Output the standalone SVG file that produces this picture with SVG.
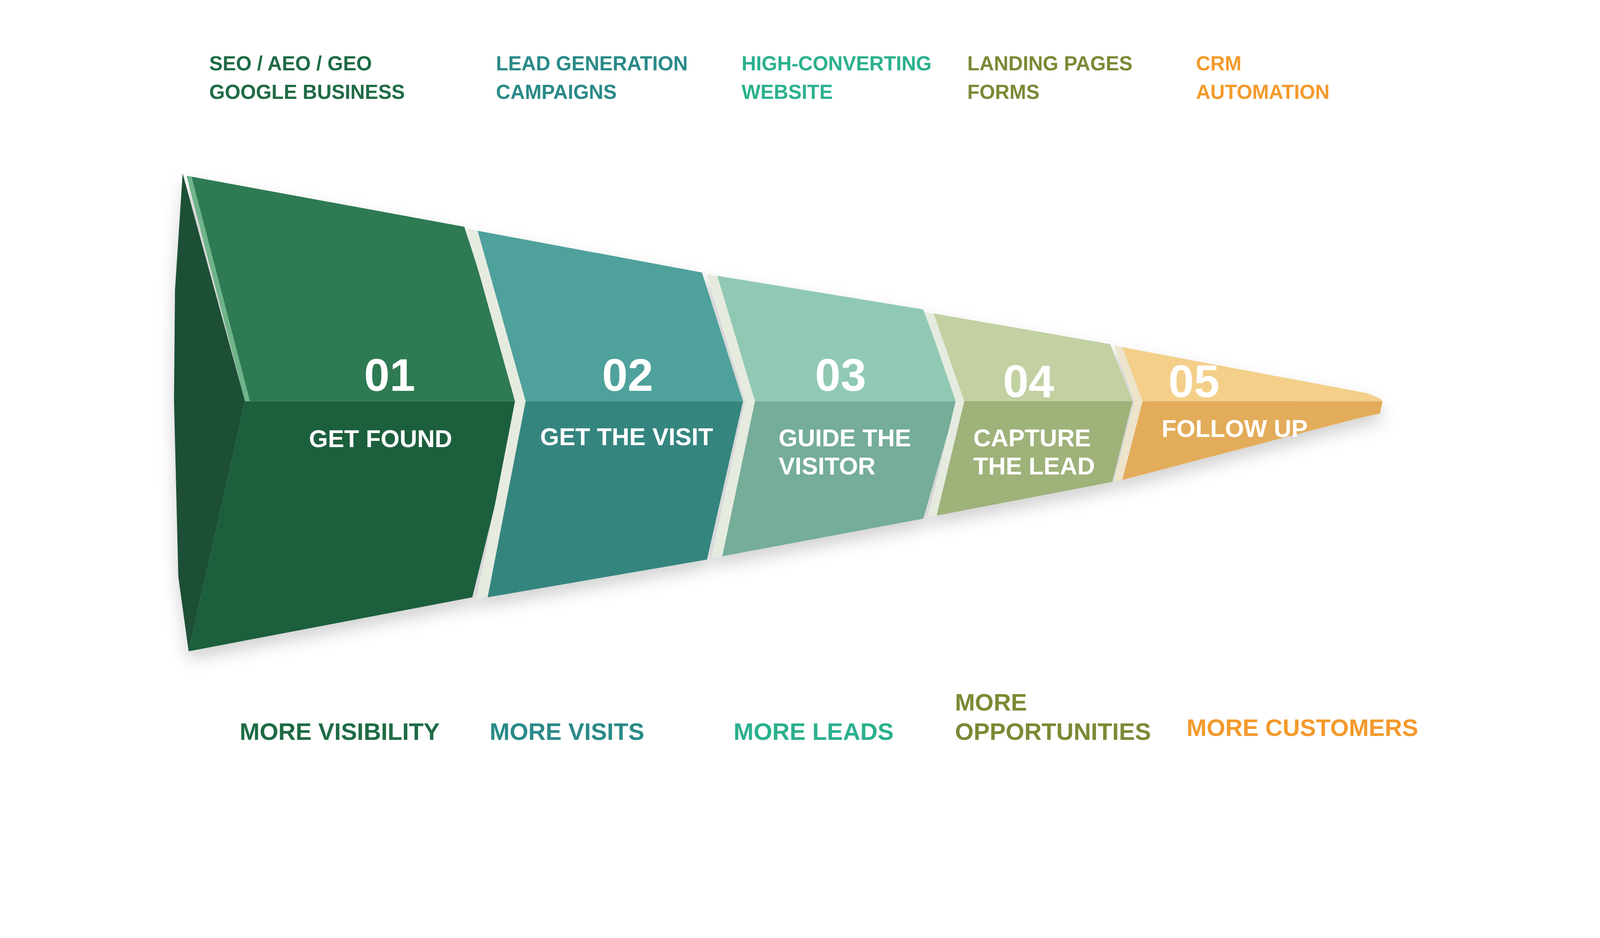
<svg xmlns="http://www.w3.org/2000/svg" width="4800" height="2400" viewBox="0 0 4800 2400">
<style>
text{font-family:"Liberation Sans",Arial,sans-serif;font-weight:bold}
.lbl{font-size:60px}
.blbl{font-size:72px}
.num{font-size:138px;fill:#fff}
.st{font-size:73px;fill:#fff}
.g1{fill:#1e6b45}.g2{fill:#2a8a88}.g3{fill:#2bb08e}.g4{fill:#7a8a35}.g5{fill:#f39a2c}
</style>
<defs>
<filter id="sh" x="-10%" y="-10%" width="120%" height="130%"><feDropShadow dx="0" dy="25" stdDeviation="25" flood-color="#000" flood-opacity="0.18"/></filter>
</defs>
<rect width="4800" height="2400" fill="#fff"/>
<g transform="scale(0.8533)">
<g id="top-labels" class="lbl">
<text x="628" y="211" class="g1">SEO / AEO / GEO</text><text x="628" y="297" class="g1">GOOGLE BUSINESS</text>
<text x="1488" y="211" class="g2">LEAD GENERATION</text><text x="1488" y="297" class="g2">CAMPAIGNS</text>
<text x="2225" y="211" class="g3">HIGH-CONVERTING</text><text x="2225" y="297" class="g3">WEBSITE</text>
<text x="2902" y="211" class="g4">LANDING PAGES</text><text x="2902" y="297" class="g4">FORMS</text>
<text x="3588" y="211" class="g5">CRM</text><text x="3588" y="297" class="g5">AUTOMATION</text>
</g>
<g id="funnel" filter="url(#sh)">
<g id="seg1">
<polygon points="548,520 735,1203 566,1953 535,1730 522,1200 525,870" fill="#1a4f34"/>
<polygon points="560,527 1393,680 1561,1203 735,1203" fill="#2f7a52"/>
<polygon points="735,1203 1561,1203 1417,1791 566,1953" fill="#1f5e3e"/>
<polygon points="560,527 575,530 750,1203 735,1203" fill="#6fb58a"/>
<text x="1169" y="1172" class="num" text-anchor="middle">01</text>
<text x="1142" y="1341" class="st" text-anchor="middle">GET FOUND</text>
</g>
<g id="seg2">
<polygon points="1400,686 1433,692 1577,1203 1463,1791 1430,1797 1545,1203" fill="#e6ebe0"/>
<polygon points="1433,692 2106,817 2229,1203 1577,1203" fill="#4fa19b"/>
<polygon points="1577,1203 2229,1203 2121,1678 1463,1791" fill="#35857f"/>
<text x="1883" y="1172" class="num" text-anchor="middle">02</text>
<text x="1880" y="1335" class="st" text-anchor="middle">GET THE VISIT</text>
</g>
<g id="seg3">
<polygon points="2120,822 2152,827 2265,1203 2167,1668 2135,1673 2235,1203" fill="#e6ebe0"/>
<polygon points="2152,827 2770,928 2871,1203 2265,1203" fill="#90c9b3"/>
<polygon points="2265,1203 2871,1203 2770,1555 2167,1668" fill="#75ad98"/>
<text x="2522" y="1172" class="num" text-anchor="middle">03</text>
<text x="2336" y="1338" class="st">GUIDE THE</text><text x="2336" y="1423" class="st">VISITOR</text>
</g>
<g id="seg4">
<polygon points="2775,935 2801,940 2893,1203 2810,1546 2784,1551 2867,1203" fill="#e6ebe0"/>
<polygon points="2801,940 3331,1032 3398,1203 2893,1203" fill="#c2d0a2"/>
<polygon points="2893,1203 3398,1203 3337,1445 2810,1546" fill="#9fb27a"/>
<text x="3086" y="1191" class="num" text-anchor="middle">04</text>
<text x="2920" y="1338" class="st">CAPTURE</text><text x="2920" y="1423" class="st">THE LEAD</text>
</g>
<g id="seg5">
<polygon points="3342,1036 3367,1041 3428,1203 3367,1439 3342,1444 3403,1203" fill="#eee4cc"/>
<polygon points="3367,1041 4102,1179 4140,1195 4148,1203 3428,1203" fill="#f3cf8a"/>
<polygon points="3428,1203 4148,1203 4140,1240 4071,1255 3367,1439" fill="#e3ac5a"/>
<text x="3582" y="1191" class="num" text-anchor="middle">05</text>
<text x="3704" y="1310" class="st" text-anchor="middle">FOLLOW UP</text>
</g>
</g>
<g id="bottom-labels" class="blbl">
<text x="719" y="2219" class="g1">MORE VISIBILITY</text>
<text x="1469" y="2219" class="g2">MORE VISITS</text>
<text x="2201" y="2219" class="g3">MORE LEADS</text>
<text x="2865" y="2131" class="g4">MORE</text><text x="2865" y="2219" class="g4">OPPORTUNITIES</text>
<text x="3560" y="2207" class="g5">MORE CUSTOMERS</text>
</g>
</g>
</svg>
